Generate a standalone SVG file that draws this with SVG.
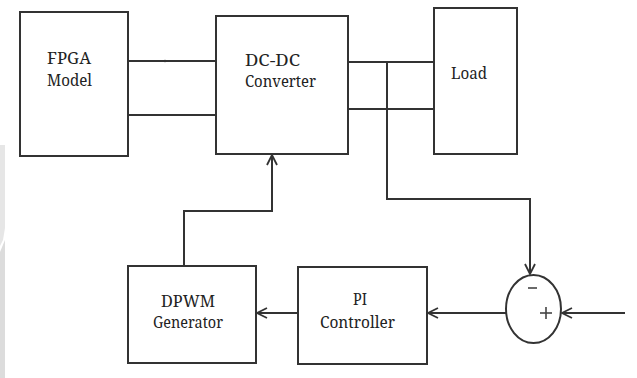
<svg xmlns="http://www.w3.org/2000/svg" width="637" height="378" viewBox="0 0 637 378">
  <style>
    .box { fill: #ffffff; stroke: #333333; stroke-width: 2; }
    .wire { fill: none; stroke: #333333; stroke-width: 2; }
    .lbl { font-family: 'Noto Serif', 'DejaVu Serif', serif; font-size: 17px; fill: #222222; }
    .sign { fill: none; stroke: #444444; stroke-width: 1.6; }
  </style>
  <defs>
    <marker id="arrow" viewBox="0 0 12 12" refX="11" refY="6" markerWidth="12" markerHeight="12" markerUnits="userSpaceOnUse" orient="auto">
      <path d="M1,1 L11,6 L1,11" fill="none" stroke="#333333" stroke-width="1.8"/>
    </marker>
  </defs>

  <rect width="637" height="378" fill="#ffffff"/>
  <!-- light grey strip along the left edge -->
  <polygon points="0,145 5,145 5,228 3,240 0,246" fill="#e6e6e6"/>
  <polygon points="0,252 5,240 5,378 0,378" fill="#dcdcdc"/>

  <g id="connectors">
    <!-- FPGA to converter -->
    <line class="wire" x1="128" y1="61" x2="216" y2="61"/>
    <line class="wire" x1="128" y1="115" x2="216" y2="115"/>
    <circle cx="165" cy="61" r="1.2" fill="#333333"/>
    <!-- converter to load -->
    <line class="wire" x1="348" y1="62" x2="434" y2="62"/>
    <line class="wire" x1="348" y1="109" x2="434" y2="109"/>
    <!-- output sense to comparator -->
    <polyline class="wire" points="387,62 387,199 530,199 530,274" marker-end="url(#arrow)"/>
    <!-- reference input -->
    <line class="wire" x1="625" y1="313" x2="562" y2="313" marker-end="url(#arrow)"/>
    <!-- comparator to PI -->
    <line class="wire" x1="506" y1="313" x2="428" y2="313" marker-end="url(#arrow)"/>
    <!-- PI to DPWM -->
    <line class="wire" x1="298" y1="313" x2="257" y2="313" marker-end="url(#arrow)"/>
    <!-- DPWM to converter -->
    <polyline class="wire" points="184,266 184,211 272,211 272,155" marker-end="url(#arrow)"/>
  </g>

  <g id="fpga">
    <rect class="box" x="20" y="12" width="108" height="144"/>
    <text class="lbl" x="47" y="64" textLength="44" lengthAdjust="spacingAndGlyphs">FPGA</text>
    <text class="lbl" x="47" y="86" textLength="45" lengthAdjust="spacingAndGlyphs">Model</text>
  </g>

  <g id="converter">
    <rect class="box" x="216" y="16" width="132" height="138"/>
    <text class="lbl" x="245" y="66" textLength="55" lengthAdjust="spacingAndGlyphs">DC-DC</text>
    <text class="lbl" x="245" y="87" textLength="71" lengthAdjust="spacingAndGlyphs">Converter</text>
  </g>

  <g id="load">
    <rect class="box" x="434" y="8" width="83" height="146"/>
    <text class="lbl" x="451" y="79" textLength="36" lengthAdjust="spacingAndGlyphs">Load</text>
  </g>

  <g id="dpwm">
    <rect class="box" x="128" y="266" width="128" height="97"/>
    <text class="lbl" x="161" y="307" textLength="54" lengthAdjust="spacingAndGlyphs">DPWM</text>
    <text class="lbl" x="153" y="328" textLength="70" lengthAdjust="spacingAndGlyphs">Generator</text>
  </g>

  <g id="pi">
    <rect class="box" x="298" y="267" width="129" height="97"/>
    <text class="lbl" x="353" y="305" textLength="14" lengthAdjust="spacingAndGlyphs">PI</text>
    <text class="lbl" x="320" y="328" textLength="75" lengthAdjust="spacingAndGlyphs">Controller</text>
  </g>

  <g id="summer">
    <ellipse class="wire" cx="533.5" cy="309" rx="27.5" ry="34"/>
    <line class="sign" x1="528" y1="288" x2="537" y2="288"/>
    <line class="sign" x1="540" y1="313" x2="552" y2="313"/>
    <line class="sign" x1="546" y1="307" x2="546" y2="319"/>
  </g>
</svg>
